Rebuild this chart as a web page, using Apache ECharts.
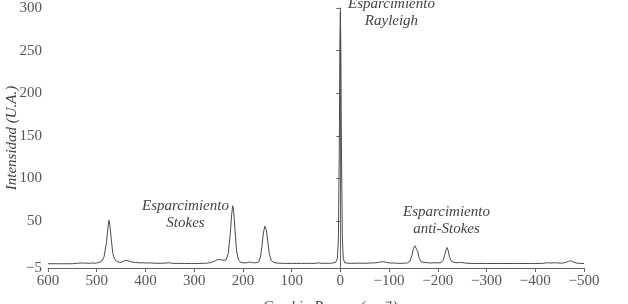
<!DOCTYPE html>
<html>
<head>
<meta charset="utf-8">
<script src="https://cdn.jsdelivr.net/npm/echarts@6/dist/echarts.min.js"></script>
<style>html,body{margin:0;padding:0;background:#fff}#c{width:628px;height:304px}</style>
</head>
<body>
<div id="c"></div>
<script>
// Raman shift (cm-1)
const ramanShift = [600,590,580,570,560,550,540,530,525,520,515,510,505,500,495,490,485,480,477,475,473,470,467,463,458,453,448,443,438,433,428,420,412,405,398,390,380,370,360,352,345,335,320,305,290,275,265,258,252,248,244,240,235,230,226,223,221,219,216,213,209,204,198,192,186,180,174,168,164,161,158,155,152,149,146,142,137,130,120,110,100,90,80,70,60,50,45,40,30,20,15,10,8,6,4,2,1,0,-1,-2,-4,-6,-9,-13,-20,-30,-40,-50,-60,-70,-78,-85,-92,-100,-110,-120,-130,-138,-143,-147,-150,-153,-156,-159,-162,-166,-170,-178,-185,-192,-200,-207,-211,-214,-217,-219,-221,-224,-228,-233,-240,-247,-254,-262,-280,-300,-330,-360,-390,-415,-425,-432,-440,-447,-455,-462,-468,-473,-478,-485,-492,-500];
// Intensity (U.A.)
const intensity = [0,0,0,0,0,0,0.5,1,0.5,0.8,0.3,1,0.5,1,1.5,3,8,25,42,51,45,28,12,5,2.5,1.5,2,3.5,4,3,2,1.5,1,1.2,0.8,1,0.5,0.6,0.7,1.2,0.5,0.4,0.3,0.3,0.4,0.6,1.5,3,5,6,4.5,3,4,12,35,58,68,62,38,15,4,1.5,1,1.2,2,1.3,1,2,8,20,36,44,40,26,12,4,1.5,0.8,0.5,0.4,0.4,0.3,0.4,0.5,0.4,0.5,1.2,0.5,0.5,0.6,1,1.5,2,6,30,150,260,296,250,150,30,6,1,0.8,0.5,0.6,0.7,0.5,0.8,1,1.5,2.5,2,1,0.8,0.5,0.6,1,3,10,18,21,20,14,6,2,1,1.2,0.8,1.2,1,1.5,4,10,16,19,16,8,3,1.5,1.2,1.5,1,0.5,0.3,0.3,0.3,0.3,0.3,0.4,1.2,0.8,1.2,0.8,0.7,1.5,2.8,3.5,2,0.8,0.4,0.3];
const yTicks = [-5,50,100,150,200,250,300];
const annotations = ["Esparcimiento\nRayleigh","Esparcimiento\nStokes","Esparcimiento\nanti-Stokes"];

const chart = echarts.init(document.getElementById('c'));
const serif = 'Liberation Serif';
const minus = v => String(v).replace('-', '\u2212');
const textStyleAnn = {fontFamily: serif, fontStyle:'italic', fontSize:15, fill:'#444', textAlign:'center', lineHeight:17};
chart.setOption({
  animation:false,
  grid:{left:48,right:44,top:8,bottom:36,containLabel:false,outerBoundsMode:'none'},
  xAxis:{
    type:'value', min:-500, max:600, interval:100, inverse:true,
    name:'Cambio Raman (cm\u207B\u00B9)', nameLocation:'middle', nameGap:32, nameMoveOverlap:false,
    nameTextStyle:{fontFamily:serif, fontStyle:'italic', fontSize:15, color:'#444', padding:[0,0,0,28]},
    axisLine:{show:true, onZero:false, lineStyle:{color:'#666', width:1}},
    axisTick:{show:true, inside:false, length:4, lineStyle:{color:'#666'}},
    axisLabel:{fontFamily:serif, fontSize:15, color:'#555', margin:6, formatter:minus},
    splitLine:{show:false}
  },
  yAxis:{
    type:'value', min:-5, max:300,
    name:'Intensidad (U.A.)', nameLocation:'middle', nameGap:28, nameRotate:90, nameMoveOverlap:false,
    nameTextStyle:{fontFamily:serif, fontStyle:'italic', fontSize:15, color:'#444'},
    axisLine:{show:true, lineStyle:{color:'#666', width:1}},
    axisTick:{show:true, inside:false, length:4, customValues:yTicks, lineStyle:{color:'#666'}},
    axisLabel:{fontFamily:serif, fontSize:15, color:'#555', margin:6, customValues:yTicks, formatter:minus},
    splitLine:{show:false}
  },
  series:[{
    type:'line', showSymbol:false, symbol:'none',
    data: ramanShift.map((x,i)=>[x,intensity[i]]),
    lineStyle:{color:'#4a4a4a', width:1}
  }],
  graphic:[
    {type:'text', left:348, top:-4, style:Object.assign({text:annotations[0]}, textStyleAnn)},
    {type:'text', left:142, top:198, style:Object.assign({text:annotations[1]}, textStyleAnn)},
    {type:'text', left:403, top:204, style:Object.assign({text:annotations[2]}, textStyleAnn)}
  ]
});
</script>
</body>
</html>
